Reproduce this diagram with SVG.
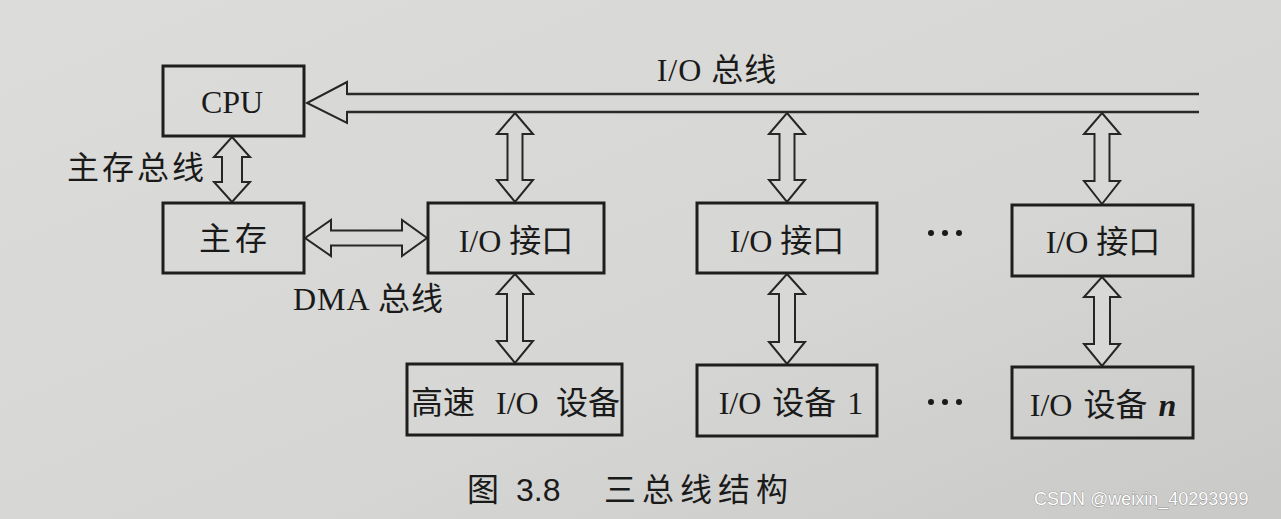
<svg xmlns="http://www.w3.org/2000/svg" width="1281" height="519" viewBox="0 0 1281 519">
  <defs>
    <linearGradient id="bg" x1="0" y1="0" x2="1" y2="1">
      <stop offset="0" stop-color="#dcdcda"/>
      <stop offset="0.6" stop-color="#d6d6d4"/>
      <stop offset="1" stop-color="#c9c9c7"/>
    </linearGradient>
  </defs>
  <style>
    .box { fill: none; stroke: #1e1e1e; stroke-width: 3; }
    .arr { fill: #d8d8d6; stroke: #262626; stroke-width: 2; stroke-linejoin: miter; }
    .bus { fill: none; stroke: #2a2a2a; stroke-width: 2.5; }
    .t { font-family: "Liberation Serif", "Noto Sans CJK SC", serif; fill: #1a1a1a; font-size: 32px; }
    .lbl { text-anchor: middle; }
    .dots { fill: #1a1a1a; }
  </style>
  <rect x="0" y="0" width="1281" height="519" fill="url(#bg)"/>

  <g id="connectors">
    <!-- I/O bus (wide arrow to CPU) -->
    <path class="arr" d="M1199,94 L347,94 L347,82 L307,103 L347,123 L347,112 L1199,112"/>
    <line class="bus" x1="347" y1="94" x2="1199" y2="94"/>
    <line class="bus" x1="347" y1="112" x2="1199" y2="112"/>
    <!-- CPU <-> main memory -->
    <polygon class="arr" points="232,137 250,157 242,157 242,182 250,182 232,202 214,182 222,182 222,157 214,157"/>
    <!-- DMA bus -->
    <polygon class="arr" points="305,238 331,220 331,230.5 402,230.5 402,220 427,238 402,256 402,245.5 331,245.5 331,256"/>
    <!-- bus <-> I/O interfaces -->
    <polygon class="arr" points="515,113 533,134 522.5,134 522.5,180 533,180 515,202 497,180 507.5,180 507.5,134 497,134"/>
    <polygon class="arr" points="787,113 805,134 794.5,134 794.5,180 805,180 787,202 769,180 779.5,180 779.5,134 769,134"/>
    <polygon class="arr" points="1102,113 1120,134 1109.5,134 1109.5,181 1120,181 1102,204 1084,181 1094.5,181 1094.5,134 1084,134"/>
    <!-- interfaces <-> devices -->
    <polygon class="arr" points="515,274 533,294 523,294 523,341 533,341 515,363 497,341 507,341 507,294 497,294"/>
    <polygon class="arr" points="787,274 805,294 795,294 795,342 805,342 787,364 769,342 779,342 779,294 769,294"/>
    <polygon class="arr" points="1102,277 1120,297 1110,297 1110,344 1120,344 1102,366 1084,344 1094,344 1094,297 1084,297"/>
  </g>

  <g id="label-io-bus"><text class="t lbl" x="717" y="81" letter-spacing="1">I/O 总线</text></g>
  <g id="label-mem-bus"><text class="t" x="67" y="179" letter-spacing="3">主存总线</text></g>
  <g id="label-dma-bus"><text class="t" x="293" y="310" letter-spacing="1">DMA 总线</text></g>

  <g id="cpu">
    <rect class="box" x="163" y="66" width="141" height="70"/>
    <text class="t lbl" x="232" y="113" font-size="34">CPU</text>
  </g>
  <g id="main-memory">
    <rect class="box" x="163" y="203" width="141" height="70"/>
    <text class="t" x="199" y="250" letter-spacing="4">主存</text>
  </g>
  <g id="io-if-1">
    <rect class="box" x="428" y="203" width="176" height="70"/>
    <text class="t lbl" x="516" y="252">I/O 接口</text>
  </g>
  <g id="io-if-2">
    <rect class="box" x="697" y="203" width="180" height="70"/>
    <text class="t lbl" x="787" y="252">I/O 接口</text>
  </g>
  <g id="io-if-n">
    <rect class="box" x="1012" y="205" width="181" height="71"/>
    <text class="t lbl" x="1103" y="253">I/O 接口</text>
  </g>
  <g id="hs-device">
    <rect class="box" x="407" y="364" width="215" height="71"/>
    <text class="t" y="414"><tspan x="411">高速</tspan><tspan x="496">I/O</tspan><tspan x="556">设备</tspan></text>
  </g>
  <g id="device-1">
    <rect class="box" x="697" y="365" width="180" height="71"/>
    <text class="t lbl" x="791" y="414" word-spacing="3">I/O 设备 1</text>
  </g>
  <g id="device-n">
    <rect class="box" x="1012" y="367" width="181" height="71"/>
    <text class="t lbl" x="1103" y="416" word-spacing="3">I/O 设备 <tspan font-style="italic" font-weight="bold">n</tspan></text>
  </g>

  <g id="ellipsis-top" class="dots">
    <circle cx="931" cy="233" r="3"/><circle cx="945" cy="233" r="3"/><circle cx="959" cy="233" r="3"/>
  </g>
  <g id="ellipsis-bottom" class="dots">
    <circle cx="931" cy="402" r="3"/><circle cx="945" cy="402" r="3"/><circle cx="959" cy="402" r="3"/>
  </g>

  <g id="caption">
    <text class="t" y="501" font-size="33"><tspan x="467">图</tspan><tspan x="516" font-family="Liberation Sans, sans-serif">3.8</tspan><tspan x="604" letter-spacing="6">三总线结构</tspan></text>
  </g>
  <g id="watermark">
    <text x="1034" y="505" font-family="Liberation Sans, Arial, sans-serif" font-size="18" fill="#ffffff" stroke="#5a5a5a" stroke-width="0.5" paint-order="stroke">CSDN @weixin_40293999</text>
  </g>
</svg>
